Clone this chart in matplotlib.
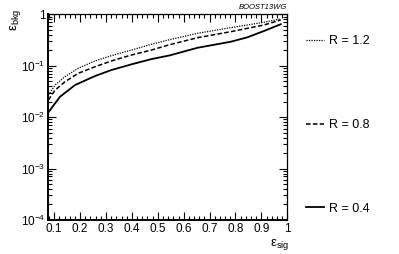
import matplotlib
matplotlib.use("Agg")
import matplotlib.pyplot as plt
from matplotlib.ticker import MultipleLocator, LogLocator, FixedFormatter, NullFormatter

plt.rcParams["font.family"] = ["Liberation Sans", "DejaVu Sans"]
plt.rcParams["mathtext.fontset"] = "custom"
plt.rcParams["mathtext.rm"] = "Liberation Sans"
plt.rcParams["mathtext.it"] = "Liberation Sans:italic"

# signal efficiency points
eff_sig_04 = [0.077, 0.122, 0.18, 0.257, 0.32, 0.398, 0.475, 0.545, 0.654, 0.782, 0.846, 0.91, 0.975]
eff_bkg_04 = [0.0123, 0.0248, 0.0419, 0.0627, 0.082, 0.106, 0.134, 0.158, 0.223, 0.292, 0.356, 0.472, 0.64]

eff_sig_08 = [0.077, 0.103, 0.141, 0.192, 0.257, 0.32, 0.398, 0.475, 0.545, 0.654, 0.782, 0.91, 0.975]
eff_bkg_08 = [0.0214, 0.0334, 0.0485, 0.0708, 0.095, 0.123, 0.161, 0.201, 0.255, 0.35, 0.458, 0.618, 0.774]

eff_sig_12 = [0.077, 0.103, 0.141, 0.192, 0.257, 0.32, 0.398, 0.475, 0.545, 0.654, 0.782, 0.91, 0.975]
eff_bkg_12 = [0.0267, 0.0419, 0.0608, 0.0886, 0.123, 0.156, 0.201, 0.26, 0.32, 0.426, 0.548, 0.698, 0.81]

labels = ["R = 1.2", "R = 0.8", "R = 0.4"]
xtick_vals = [0.1, 0.2, 0.3, 0.4, 0.5, 0.6, 0.7, 0.8, 0.9, 1.0]
xtick_labels = ["0.1", "0.2", "0.3", "0.4", "0.5", "0.6", "0.7", "0.8", "0.9", "1"]
ytick_vals = [1e-4, 1e-3, 1e-2, 1e-1, 1]
ytick_labels = [r"$10^{-4}$", r"$10^{-3}$", r"$10^{-2}$", r"$10^{-1}$", "1"]

fig = plt.figure(figsize=(3.99, 2.54), dpi=100)
ax = fig.add_axes([0.121, 0.134, 0.599, 0.810])

l12, = ax.plot(eff_sig_12, eff_bkg_12, color="black", lw=0.9, ls=(0, (1, 1)))
l08, = ax.plot(eff_sig_08, eff_bkg_08, color="black", lw=1.1, ls=(0, (3, 1.5)))
l04, = ax.plot(eff_sig_04, eff_bkg_04, color="black", lw=1.3, ls="-")

ax.set_yscale("log")
ax.set_xlim(0.077, 1.0)
ax.set_ylim(1e-4, 1)

ax.set_xticks(xtick_vals)
ax.set_xticklabels(xtick_labels)
ax.xaxis.set_minor_locator(MultipleLocator(0.02))
ax.set_yticks(ytick_vals)
ax.yaxis.set_major_formatter(FixedFormatter(ytick_labels))
ax.yaxis.set_minor_locator(LogLocator(base=10, subs=range(2, 10), numticks=20))
ax.yaxis.set_minor_formatter(NullFormatter())

ax.tick_params(which="both", direction="in", top=True, right=True, labelsize=8.5, width=0.8, pad=2)
ax.tick_params(which="major", length=6)
ax.tick_params(which="minor", length=3)
for s in ax.spines.values():
    s.set_linewidth(0.9)
ax.spines["left"].set_linewidth(1.4)
ax.spines["bottom"].set_linewidth(1.4)

fig.text(0.72, 0.958, "BOOST13WG", ha="right", va="bottom", fontsize=5.5, style="italic")

fig.text(0.725, 0.068, "ε$_{\\mathrm{sig}}$", ha="right", va="top", fontsize=9.5)
fig.text(0.02, 0.965, "ε$_{\\mathrm{bkg}}$", ha="left", va="top", fontsize=9.5, rotation=90)

fig.legend([l12, l08, l04], labels, loc="upper left", bbox_to_anchor=(0.767, 0.862),
           frameon=False, fontsize=9, handlelength=1.4, handletextpad=0.45,
           labelspacing=5.75, borderpad=0, borderaxespad=0)

fig.savefig("out.png", dpi=100)
